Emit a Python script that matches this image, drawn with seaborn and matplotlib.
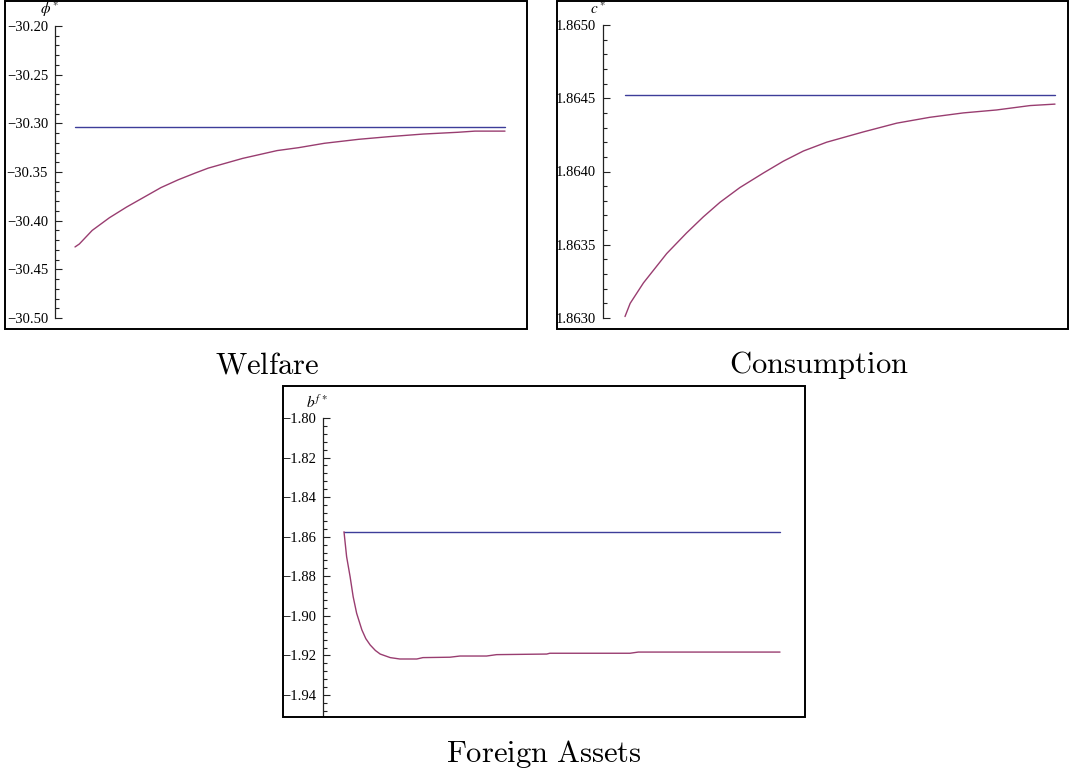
import matplotlib
matplotlib.use("Agg")
import matplotlib.pyplot as plt
from matplotlib.patches import Rectangle
from matplotlib.ticker import MultipleLocator, FuncFormatter
import seaborn as sns

# --- data (periods after the shock) ---
welfare_t = [0, 1, 4, 8, 12, 16, 20, 24, 28, 31, 35, 39, 43, 47, 52, 58, 66, 73, 81, 89, 93, 100]
welfare = [-30.427, -30.424, -30.410, -30.397, -30.386, -30.376, -30.366, -30.358,
           -30.351, -30.346, -30.341, -30.336, -30.332, -30.328, -30.325, -30.3205,
           -30.3164, -30.3137, -30.311, -30.3092, -30.308, -30.308]
welfare_ss = -30.3034

cons_t = [0, 1.2, 4.3, 9.7, 14.3, 18.2, 22.1, 26.7, 32.2, 36.8, 41.5, 46.9, 55.4,
          63.2, 70.9, 78.7, 86.4, 94.2, 100]
cons = [1.86301, 1.86310, 1.86324, 1.86344, 1.86358, 1.86369, 1.86379, 1.86389,
        1.86399, 1.86407, 1.86414, 1.86420, 1.86427, 1.86433, 1.86437, 1.86440,
        1.86442, 1.86445, 1.86446]
cons_ss = 1.86452

assets_t = [0, 0.6, 1.4, 2.1, 2.9, 4.1, 5.0, 6.0, 7.2, 8.3, 10.6, 12.8, 16.7, 18.1,
            24.3, 26.6, 32.7, 35.0, 46.5, 47.2, 65.6, 67.5, 100]
assets = [-1.8575, -1.8701, -1.8802, -1.8903, -1.8987, -1.9071, -1.9115, -1.9147,
          -1.9175, -1.9193, -1.9211, -1.9218, -1.9218, -1.9211, -1.9209, -1.9203,
          -1.9203, -1.9196, -1.9193, -1.9189, -1.9189, -1.9183, -1.9183]
assets_ss = -1.8575

BLUE = (0.24, 0.24, 0.6)
RED = (0.6, 0.24, 0.44)

sns.set_style("white")
plt.rcParams["font.family"] = ["Liberation Serif", "DejaVu Serif"]
plt.rcParams["mathtext.fontset"] = "cm"
plt.rcParams["text.color"] = "black"
plt.rcParams["ytick.color"] = "black"

W, H = 1073, 771
fig = plt.figure(figsize=(W / 100, H / 100), dpi=100)


def box(x0, y0, x1, y1):
    # pixel box (y from top) -> figure fraction rect
    return [x0 / W, 1 - y1 / H, (x1 - x0) / W, (y1 - y0) / H]


def minus(fmt):
    return FuncFormatter(lambda v, p: (fmt % v).replace("-", "\u2212"))


def panel(frame, axbox, xlim, ylim, major, minor, fmt, t, vals, ss, ylab):
    fig.add_artist(Rectangle((frame[0], frame[1]), frame[2], frame[3],
                             transform=fig.transFigure, fill=False,
                             edgecolor="black", linewidth=1.4))
    ax = fig.add_axes(axbox)
    ax.patch.set_alpha(0)
    sns.lineplot(x=[t[0], t[-1]], y=[ss, ss], ax=ax, color=BLUE, linewidth=1.0)
    sns.lineplot(x=t, y=vals, ax=ax, color=RED, linewidth=1.0)
    ax.set_xlim(*xlim)
    ax.set_ylim(*ylim)
    for s in ["top", "right", "bottom"]:
        ax.spines[s].set_visible(False)
    ax.spines["left"].set_color("#222222")
    ax.spines["left"].set_linewidth(0.9)
    ax.set_xticks([])
    ax.yaxis.set_major_locator(MultipleLocator(major))
    ax.yaxis.set_minor_locator(MultipleLocator(minor))
    ax.yaxis.set_major_formatter(minus(fmt))
    ax.tick_params(axis="y", which="both", left=True, direction="in",
                   width=0.8, color="#222222", labelcolor="black",
                   labelsize=10.5, pad=5)
    ax.tick_params(axis="y", which="major", length=5)
    ax.tick_params(axis="y", which="minor", length=3)
    ax.set_xlabel("")
    ax.set_ylabel("")
    ax.annotate(ylab, xy=(0, 1), xycoords="axes fraction", xytext=(-4, 12),
                textcoords="offset points", ha="center", va="center",
                fontsize=11, math_fontfamily="stix")
    return ax


# Welfare
panel(box(5, 1, 527, 329), box(55, 26, 525, 318), (-20 / 4.3, 100 + 20 / 4.3),
      (-30.50, -30.20), 0.05, 0.01, "%.2f", welfare_t, welfare, welfare_ss,
      r"$\phi^*$")
# Consumption
panel(box(557, 1, 1068, 329), box(603, 25, 1065, 318), (-22 / 4.3, 100 + 10 / 4.3),
      (1.8630, 1.8650), 0.0005, 0.0001, "%.4f", cons_t, cons, cons_ss,
      r"$c^*$")
# Foreign assets
panel(box(283, 386, 805, 717), box(323, 418, 803, 716), (-21 / 4.36, 100 + 23 / 4.36),
      (-1.80 - 298 / 1978.6, -1.80), 0.02, 0.004, "%.2f", assets_t, assets, assets_ss,
      r"$b^{f\,*}$")

fig.text(267 / W, 1 - 373 / H, r"$\mathrm{Welfare}$", ha="center", va="baseline", fontsize=22)
fig.text(819 / W, 1 - 373 / H, r"$\mathrm{Consumption}$", ha="center", va="baseline", fontsize=22)
fig.text(544 / W, 1 - 762 / H, r"$\mathrm{Foreign\ Assets}$", ha="center", va="baseline", fontsize=22)

fig.savefig("out.png", dpi=100)
